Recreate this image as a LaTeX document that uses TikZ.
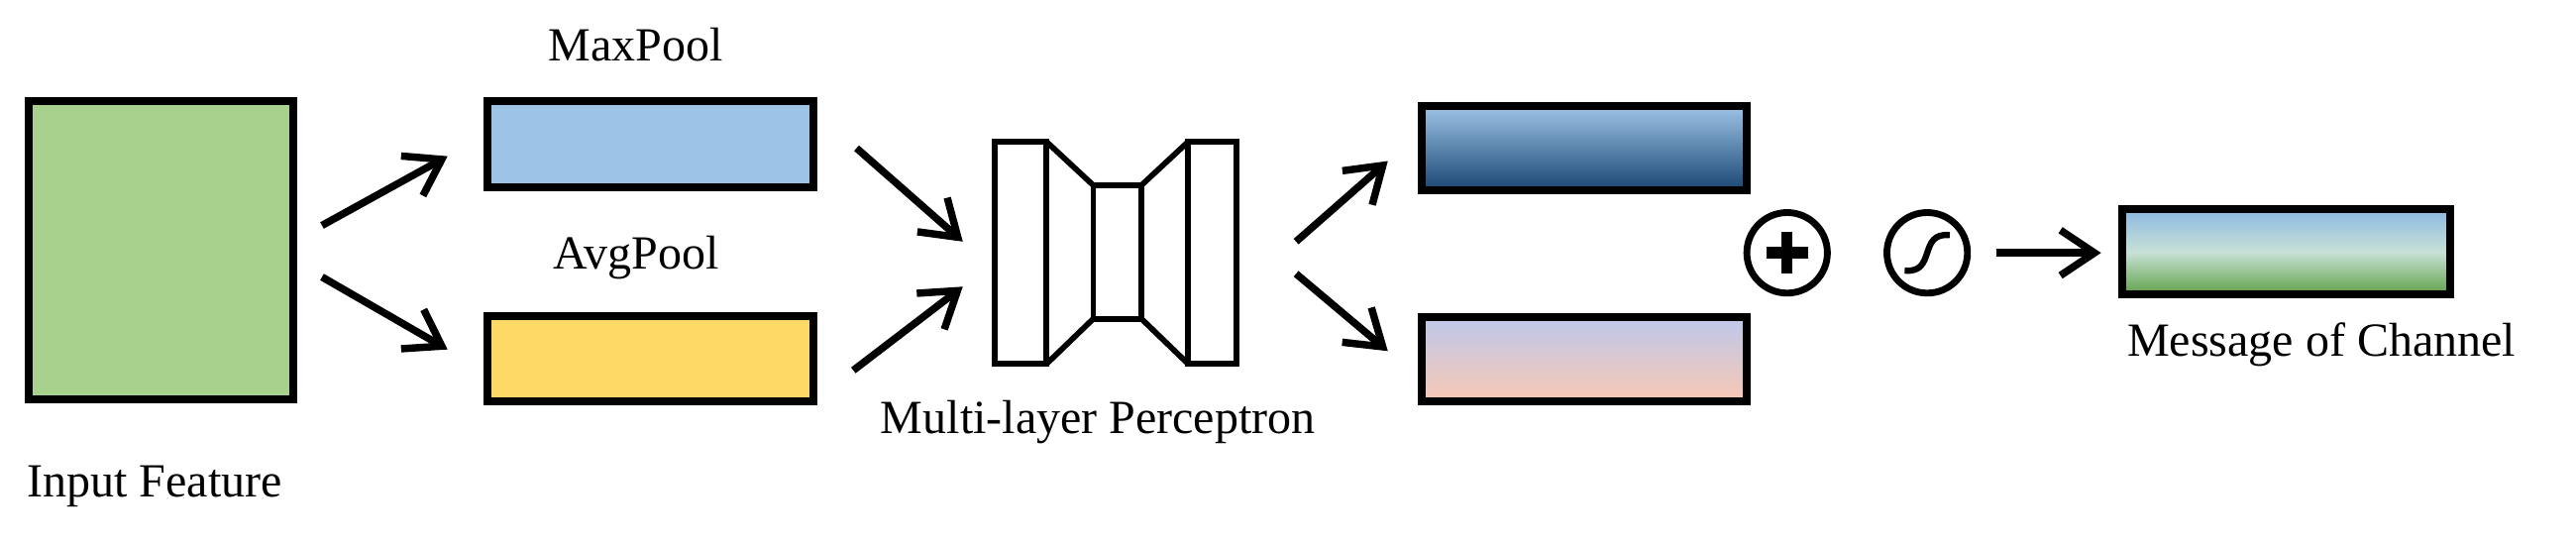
\documentclass[tikz,border=0pt]{standalone}
\usepackage{fontspec}
\setmainfont{Liberation Serif}
\usetikzlibrary{arrows.meta}
\begin{document}
\begin{tikzpicture}[x=0.01cm,y=-0.01cm,
  box/.style={draw=black,line width=1.4pt,inner sep=0},
  arr/.style={line width=1.3pt,-{Straight Barb[length=6pt,width=8pt,line width=1.3pt]}},
  lbl/.style={font=\fontsize{8.4pt}{10pt}\selectfont,inner sep=0},
  mlp/.style={draw=black,line width=1pt}]
\useasboundingbox (0,0) rectangle (1600,338);
\definecolor{ggreen}{RGB}{169,209,142}
\definecolor{gblue}{RGB}{157,195,230}
\definecolor{gyell}{RGB}{255,217,102}
\path[box,fill=ggreen] (18,63) rectangle (182,248);
\node (in) at (100,155) {};
\path[box,fill=gblue] (303,63) rectangle (505,116);
\node (mx) at (404,90) {};
\path[box,fill=gyell] (303,196) rectangle (505,249);
\node (av) at (404,222) {};
\shade[top color={rgb,255:red,157;green,195;blue,230},bottom color={rgb,255:red,25;green,70;blue,115}] (883,66) rectangle (1085,118);
\draw[box] (883,66) rectangle (1085,118);
\shade[top color={rgb,255:red,190;green,200;blue,235},bottom color={rgb,255:red,248;green,200;blue,180}] (883,197) rectangle (1085,249);
\draw[box] (883,197) rectangle (1085,249);
\shade[top color={rgb,255:red,140;green,185;blue,225},bottom color={rgb,255:red,95;green,160;blue,70},middle color={rgb,255:red,200;green,225;blue,215}] (1318,130) rectangle (1522,183);
\draw[box] (1318,130) rectangle (1522,183);
% MLP
\draw[mlp] (618,88) rectangle (650,226);
\draw[mlp] (679,115) rectangle (709,198);
\draw[mlp] (738,88) rectangle (768,226);
\draw[mlp] (650,88) -- (679,115) (650,226) -- (679,198) (709,115) -- (738,88) (709,198) -- (738,226);
\coordinate (a1s) at (200,140); \coordinate (a1e) at (278,97);
\coordinate (a2s) at (200,172); \coordinate (a2e) at (278,217);
\coordinate (a3s) at (532,92); \coordinate (a3e) at (598,150);
\coordinate (a4s) at (530,230); \coordinate (a4e) at (598,178);
\coordinate (a5s) at (805,150); \coordinate (a5e) at (862,100);
\coordinate (a6s) at (805,170); \coordinate (a6e) at (862,218);
\coordinate (a7s) at (1240,157); \coordinate (a7e) at (1305,157);
\foreach \i in {1,...,7} \draw[arr] (a\i s) -- (a\i e);
% plus and sigmoid
\node[draw,circle,line width=1.2pt,minimum size=0.5cm,inner sep=0] (pl) at (1110,157) {};
\draw[line width=2pt] (1097,157) -- (1123,157) (1110,144) -- (1110,170);
\node[draw,circle,line width=1.2pt,minimum size=0.5cm,inner sep=0] (sg) at (1197,157) {};
\draw[line width=1.1pt] (1183,168) .. controls (1203,170) and (1191,144) .. (1211,146);
\node[lbl] (t1) at (395,28) {MaxPool};
\node[lbl] (t2) at (395,160) {AvgPool};
\node[lbl] (t3) at (682,262) {Multi-layer Perceptron};
\node[lbl] (t4) at (1442,214) {Message of Channel};
\node[lbl] (t5) at (96,302) {Input Feature};
\end{tikzpicture}
\end{document}
